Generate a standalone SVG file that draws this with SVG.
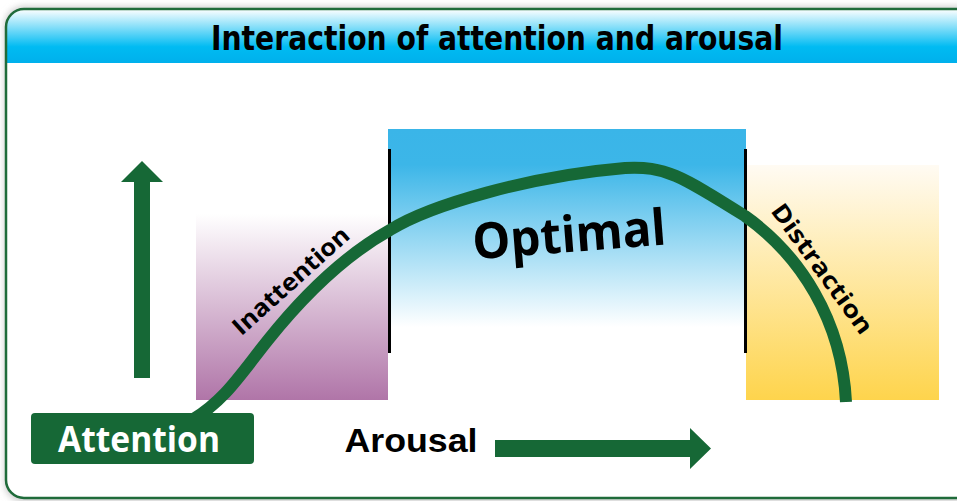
<svg xmlns="http://www.w3.org/2000/svg" width="957" height="501" viewBox="0 0 957 501">
  <defs>
    <linearGradient id="hdr" x1="0" y1="0" x2="0" y2="1">
      <stop offset="0" stop-color="#ffffff"/>
      <stop offset="0.7" stop-color="#00bbf2"/>
      <stop offset="1" stop-color="#00b0ec"/>
    </linearGradient>
    <linearGradient id="purp" x1="0" y1="0" x2="0" y2="1">
      <stop offset="0" stop-color="#ffffff"/>
      <stop offset="1" stop-color="#b075a8"/>
    </linearGradient>
    <linearGradient id="blue" x1="0" y1="0" x2="0" y2="1">
      <stop offset="0" stop-color="#3ab5e8"/>
      <stop offset="0.18" stop-color="#3cb6e8"/>
      <stop offset="1" stop-color="#ffffff"/>
    </linearGradient>
    <linearGradient id="yel" x1="0" y1="0" x2="0" y2="1">
      <stop offset="0" stop-color="#fffbf3"/>
      <stop offset="1" stop-color="#fed44c"/>
    </linearGradient>
    <filter id="sh" x="-5%" y="-5%" width="110%" height="110%">
      <feGaussianBlur stdDeviation="3"/>
    </filter>
    <clipPath id="frame">
      <rect x="6" y="9" width="970" height="489" rx="18"/>
    </clipPath>
  </defs>
  <style>
    .green { fill: #166836; }
    .lbl { font-family: "Open Sans", "DejaVu Sans", sans-serif; font-weight: bold; fill: #000; }
    .div { stroke: #000; stroke-width: 3; }
  </style>

  <rect x="0" y="0" width="957" height="501" fill="#ffffff"/>
  <rect x="4" y="6" width="975" height="496" rx="20" fill="#cfcfcf" filter="url(#sh)"/>
  <rect x="6" y="9" width="970" height="489" rx="18" fill="#ffffff"/>

  <g id="header" clip-path="url(#frame)">
    <rect x="6" y="9" width="970" height="54" fill="url(#hdr)"/>
    <text x="497" y="50" text-anchor="middle" font-family="'DejaVu Sans Condensed', 'DejaVu Sans', sans-serif" font-weight="bold" font-stretch="condensed" font-size="34" textLength="572" lengthAdjust="spacingAndGlyphs" fill="#000">Interaction of attention and arousal</text>
  </g>
  <rect x="6" y="9" width="970" height="489" rx="18" fill="none" stroke="#1f6b3a" stroke-width="2.5"/>

  <g id="zone-inattention">
    <rect x="196" y="214" width="192" height="186" fill="url(#purp)"/>
    <text class="lbl" font-size="24" transform="translate(291,281) rotate(-42)" y="8" text-anchor="middle" textLength="148" lengthAdjust="spacingAndGlyphs">Inattention</text>
  </g>
  <g id="zone-optimal">
    <rect x="388" y="129" width="358" height="198" fill="url(#blue)"/>
    <text class="lbl" font-size="50" transform="translate(569,235) rotate(-4.5)" y="17" text-anchor="middle" textLength="194" lengthAdjust="spacingAndGlyphs">Optimal</text>
  </g>
  <g id="zone-distraction">
    <rect x="746" y="165" width="193" height="235" fill="url(#yel)"/>
    <text class="lbl" font-size="24" transform="translate(822,269) rotate(54)" y="8" text-anchor="middle" textLength="155" lengthAdjust="spacingAndGlyphs">Distraction</text>
  </g>

  <g id="connectors">
    <line class="div" x1="389.5" y1="149" x2="389.5" y2="353"/>
    <line class="div" x1="745.5" y1="149" x2="745.5" y2="353"/>
    <path d="M 192 420 C 225 400, 240 375, 268 340 C 300 300, 340 258, 390 230 C 430 205, 530 176, 625 168 C 665 166, 680 175, 745 216 C 800 255, 842 320, 846 402" fill="none" stroke="#166836" stroke-width="12"/>
    <polygon class="green" points="134,378 150,378 150,182 163,182 142,161 121,182 134,182"/>
    <polygon class="green" points="495,440 690,440 690,428 711,448.5 690,469 690,457 495,457"/>
  </g>

  <g id="attention">
    <rect x="31" y="413" width="223" height="51" rx="4" class="green"/>
    <text x="139" y="452" text-anchor="middle" font-family="'Open Sans', 'DejaVu Sans', sans-serif" font-weight="bold" font-size="35" fill="#ffffff" textLength="162" lengthAdjust="spacingAndGlyphs">Attention</text>
  </g>
  <g id="arousal">
    <text x="411" y="452" text-anchor="middle" font-family="'Liberation Sans', Arial, sans-serif" font-weight="bold" font-size="34" fill="#000" textLength="133" lengthAdjust="spacingAndGlyphs">Arousal</text>
  </g>
</svg>
